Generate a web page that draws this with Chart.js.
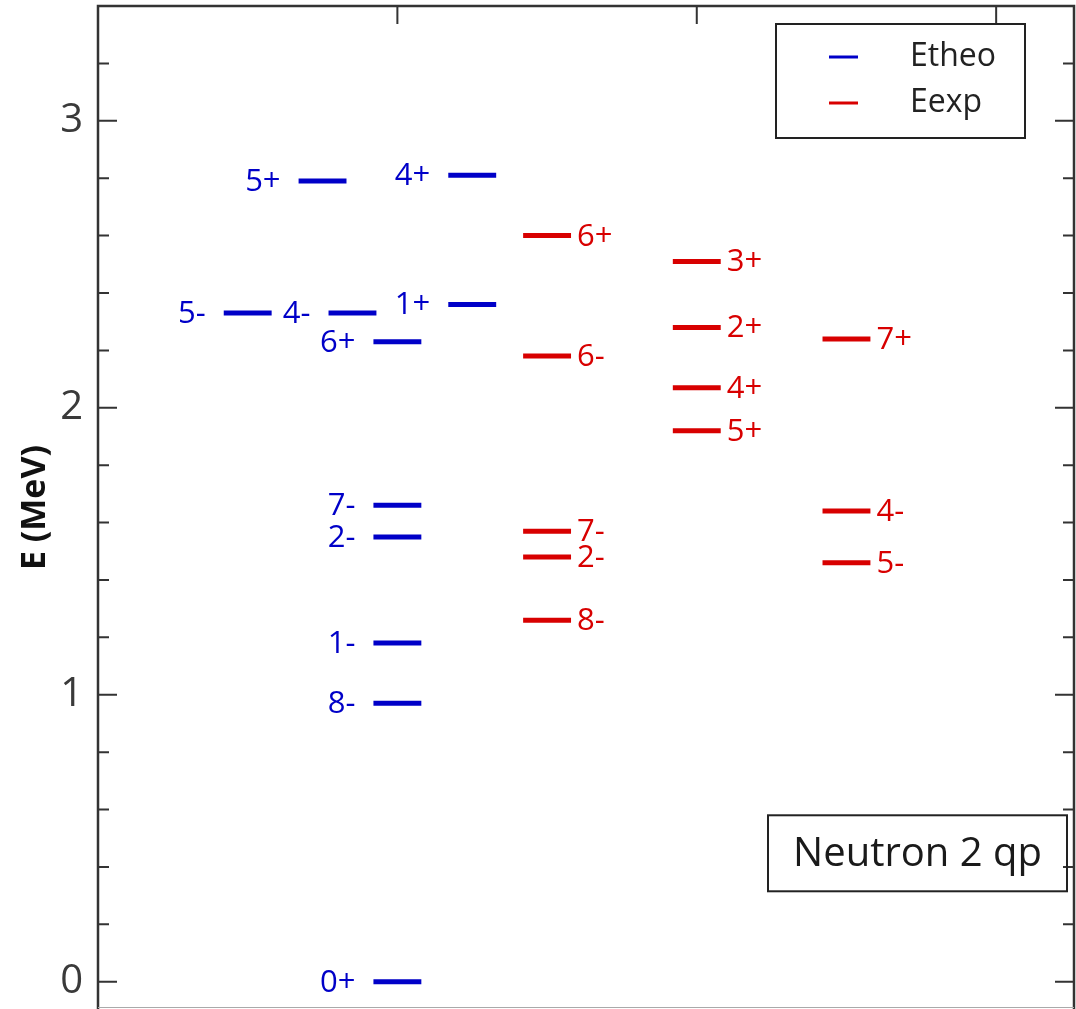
<!DOCTYPE html>
<html lang="en">
<head>
  <meta charset="UTF-8">
  <title>Neutron 2 qp levels</title>
  <script src="https://cdn.jsdelivr.net/npm/chart.js"></script>
  <style>
    body {
      margin: 0;
      padding: 0;
      background: #fff;
    }
    #chartBox {
      width: 1076px;
      height: 1009px;
    }
  </style>
</head>
<body>
  <div id="chartBox">
    <canvas id="levelChart"></canvas>
  </div>

  <script>
    // theoretical levels (MeV), their column on the x scale and spin-parity
    const theoEnergies = [2.79, 2.81, 2.33, 2.33, 2.36, 2.23, 1.66, 1.55, 1.18, 0.97, 0.00];
    const theoColumns  = [0.75, 1.25, 0.50, 0.85, 1.25, 1.00, 1.00, 1.00, 1.00, 1.00, 1.00];
    const theoSpins    = ['5+', '4+', '5-', '4-', '1+', '6+', '7-', '2-', '1-', '8-', '0+'];

    // experimental levels
    const expEnergies = [2.60, 2.18, 1.57, 1.48, 1.26, 2.51, 2.28, 2.07, 1.92, 2.24, 1.64, 1.46];
    const expColumns  = [1.50, 1.50, 1.50, 1.50, 1.50, 2.00, 2.00, 2.00, 2.00, 2.50, 2.50, 2.50];
    const expSpins    = ['6+', '6-', '7-', '2-', '8-', '3+', '2+', '4+', '5+', '7+', '4-', '5-'];

    const yTicks = [0, 1, 2, 3];
    const xTicks = [1, 2, 3];
    const halfWidth = 0.08;

    const blue = '#0000c8';
    const red = '#d80000';
    const fontFamily = "'Open Sans', 'Liberation Sans', sans-serif";

    // each level is a short horizontal segment; a null point breaks the line
    function buildSegments(energies, columns) {
      const pts = [];
      energies.forEach((e, i) => {
        pts.push({ x: columns[i] - halfWidth, y: e });
        pts.push({ x: columns[i] + halfWidth, y: e });
        pts.push({ x: columns[i], y: null });
      });
      return pts;
    }

    const levelDecor = {
      id: 'levelDecor',
      afterDatasetsDraw(chart) {
        const { ctx, chartArea: area, scales: { x, y } } = chart;
        ctx.save();

        // spin labels: theory to the left of its bar, experiment to the right
        ctx.font = `31px ${fontFamily}`;
        ctx.textBaseline = 'alphabetic';
        ctx.fillStyle = blue;
        ctx.textAlign = 'right';
        theoEnergies.forEach((e, i) => {
          const px = x.getPixelForValue(theoColumns[i] - halfWidth);
          ctx.fillText(theoSpins[i], px - 18, y.getPixelForValue(e) + 10);
        });
        ctx.fillStyle = red;
        ctx.textAlign = 'left';
        expEnergies.forEach((e, i) => {
          const px = x.getPixelForValue(expColumns[i] + halfWidth);
          ctx.fillText(expSpins[i], px + 6, y.getPixelForValue(e) + 10);
        });

        // frame
        ctx.strokeStyle = '#333';
        ctx.lineWidth = 2.5;
        ctx.beginPath();
        ctx.moveTo(area.left, area.bottom);
        ctx.lineTo(area.left, area.top);
        ctx.lineTo(area.right, area.top);
        ctx.lineTo(area.right, area.bottom);
        ctx.stroke();
        ctx.strokeStyle = '#aaa';
        ctx.lineWidth = 1;
        ctx.beginPath();
        ctx.moveTo(area.left, area.bottom - 1.5);
        ctx.lineTo(area.right, area.bottom - 1.5);
        ctx.stroke();

        // inward ticks: majors every 1 MeV, minors every 0.2 MeV
        ctx.strokeStyle = '#333';
        ctx.lineWidth = 2;
        ctx.beginPath();
        for (let k = 0; k <= 17; k++) {
          const v = k / 5;
          const py = y.getPixelForValue(v);
          const len = (k % 5 === 0) ? 19 : 11;
          ctx.moveTo(area.left, py);
          ctx.lineTo(area.left + len, py);
          ctx.moveTo(area.right, py);
          ctx.lineTo(area.right - len, py);
        }
        xTicks.forEach(v => {
          const px = x.getPixelForValue(v);
          ctx.moveTo(px, area.top);
          ctx.lineTo(px, area.top + 18);
        });
        ctx.stroke();

        // legend box
        const lx = area.right - 298, ly = area.top + 18, lw = 249, lh = 114;
        ctx.strokeStyle = '#222';
        ctx.lineWidth = 2;
        ctx.strokeRect(lx, ly, lw, lh);
        chart.data.datasets.forEach((ds, i) => {
          const rowY = ly + 33 + i * 46;
          ctx.strokeStyle = ds.borderColor;
          ctx.lineWidth = 3;
          ctx.beginPath();
          ctx.moveTo(lx + 53, rowY);
          ctx.lineTo(lx + 82, rowY);
          ctx.stroke();
          ctx.fillStyle = '#222';
          ctx.font = `32px ${fontFamily}`;
          ctx.textAlign = 'left';
          ctx.textBaseline = 'middle';
          ctx.fillText(ds.label, lx + 134, rowY);
        });

        // note box
        const nx = area.right - 306, ny = y.getPixelForValue(0.58), nw = 299, nh = 76;
        ctx.strokeStyle = '#222';
        ctx.lineWidth = 2;
        ctx.strokeRect(nx, ny, nw, nh);
        ctx.fillStyle = '#1a1a1a';
        ctx.font = `40px ${fontFamily}`;
        ctx.textAlign = 'center';
        ctx.textBaseline = 'middle';
        ctx.fillText('Neutron 2 qp', nx + nw / 2, ny + nh / 2 + 1);

        ctx.restore();
      }
    };

    const ctx = document.getElementById('levelChart').getContext('2d');
    new Chart(ctx, {
      type: 'scatter',
      data: {
        datasets: [
          {
            label: 'Etheo',
            data: buildSegments(theoEnergies, theoColumns),
            borderColor: blue,
            backgroundColor: blue,
            borderWidth: 5,
            borderCapStyle: 'butt',
            showLine: true,
            spanGaps: false,
            pointRadius: 0
          },
          {
            label: 'Eexp',
            data: buildSegments(expEnergies, expColumns),
            borderColor: red,
            backgroundColor: red,
            borderWidth: 5,
            borderCapStyle: 'butt',
            showLine: true,
            spanGaps: false,
            pointRadius: 0
          }
        ]
      },
      options: {
        responsive: true,
        maintainAspectRatio: false,
        animation: false,
        layout: { padding: { top: 6, right: 2, bottom: 0, left: 0 } },
        plugins: {
          legend: { display: false },
          tooltip: { enabled: false }
        },
        scales: {
          x: {
            type: 'linear',
            display: false,
            min: 0,
            max: 3.26
          },
          y: {
            type: 'linear',
            min: -0.095,
            max: 3.4,
            afterFit(scale) {
              scale.width = 98;
              scale.paddingTop = 0;
              scale.paddingBottom = 0;
            },
            grid: { display: false },
            border: { display: false },
            ticks: {
              includeBounds: false,
              stepSize: 1,
              padding: 7,
              color: '#3a3a3a',
              font: { family: fontFamily, size: 40 },
              callback: v => yTicks.includes(v) ? String(v) : ''
            },
            title: {
              display: true,
              text: 'E (MeV)',
              color: '#111',
              font: { family: fontFamily, size: 34, weight: 'bold' },
              padding: { top: 15, bottom: 0 }
            }
          }
        }
      },
      plugins: [levelDecor]
    });
  </script>
</body>
</html>
